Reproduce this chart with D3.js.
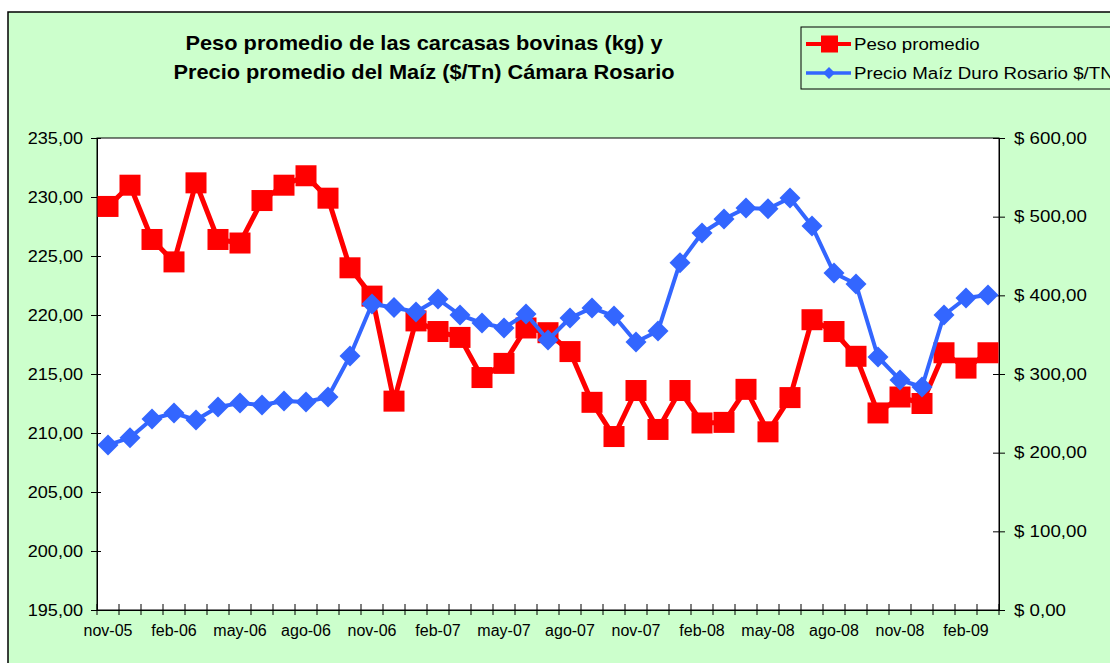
<!DOCTYPE html>
<html>
<head>
<meta charset="utf-8">
<script src="https://cdn.jsdelivr.net/npm/d3@7"></script>
<style>
  body { margin: 0; background: #fff; }
  svg text { font-family: Arial, "Liberation Sans", sans-serif; fill: #000; }
</style>
</head>
<body>
<div id="chart"></div>
<script>
const months = [
  "nov-05", "dic-05", "ene-06", "feb-06", "mar-06", "abr-06", "may-06", "jun-06",
  "jul-06", "ago-06", "sep-06", "oct-06", "nov-06", "dic-06", "ene-07", "feb-07",
  "mar-07", "abr-07", "may-07", "jun-07", "jul-07", "ago-07", "sep-07", "oct-07",
  "nov-07", "dic-07", "ene-08", "feb-08", "mar-08", "abr-08", "may-08", "jun-08",
  "jul-08", "ago-08", "sep-08", "oct-08", "nov-08", "dic-08", "ene-09", "feb-09",
  "mar-09"
];
// peso promedio de las carcasas (kg), eje izquierdo
const peso = [
  229.2, 231.0, 226.4, 224.5, 231.2, 226.4, 226.1, 229.7, 231.0, 231.8,
  229.9, 224.0, 221.6, 212.7, 219.5, 218.6, 218.1, 214.7, 215.9, 218.9,
  218.5, 216.9, 212.6, 209.7, 213.6, 210.3, 213.6, 210.85, 210.9, 213.7,
  210.1, 213.0, 219.6, 218.6, 216.5, 211.7, 213.05, 212.5, 216.8, 215.5,
  216.8
];
// precio maiz duro rosario $/Tn, eje derecho
const precio = [
  209.7, 219, 242.8, 250.4, 241.5, 258, 263, 260.6, 265.7, 264.4,
  270.7, 322.9, 389, 384.5, 378.8, 395.3, 375, 364.8, 358.5, 376.3,
  343.2, 371.2, 384, 373.7, 340.7, 354.7, 441.5, 479.2, 497, 511,
  510, 523.7, 488, 428.4, 414.4, 321.6, 292.4, 283.5, 375, 396.6,
  400.4
];
const leftTicks = [195, 200, 205, 210, 215, 220, 225, 230, 235];
const rightTicks = [0, 100, 200, 300, 400, 500, 600];
const titleLines = [
  "Peso promedio de las carcasas bovinas (kg) y",
  "Precio promedio del Maíz ($/Tn) Cámara Rosario"
];
const seriesNames = ["Peso promedio", "Precio Maíz Duro Rosario $/TN"];

const width = 1110, height = 663;
const plot = { left: 97, right: 999, top: 138, bottom: 610 };
const red = "#ff0000", blue = "#3366ff";

const es = d3.formatLocale({ decimal: ",", thousands: ".", grouping: [3], currency: ["$ ", ""] });
const fmtLeft = es.format(".2f");
const fmtRight = es.format("$.2f");

const svg = d3.select("#chart").append("svg")
  .attr("width", width)
  .attr("height", height);

// fondo verde con borde
svg.append("rect")
  .attr("x", 8).attr("y", 12)
  .attr("width", width).attr("height", height)
  .attr("fill", "#ccffcc")
  .attr("stroke", "#000")
  .attr("stroke-width", 1.5);

svg.append("rect")
  .attr("x", plot.left).attr("y", plot.top)
  .attr("width", plot.right - plot.left)
  .attr("height", plot.bottom - plot.top)
  .attr("fill", "#fff")
  .attr("stroke", "#000")
  .attr("stroke-width", 1);

// titulo
svg.selectAll(".title")
  .data(titleLines)
  .join("g")
  .attr("class", "title")
  .attr("transform", (d, i) => `translate(424,${50 + i * 29}) scale(1.09,1)`)
  .append("text")
  .attr("text-anchor", "middle")
  .style("font-size", "20px")
  .style("font-weight", "bold")
  .text((d) => d);

const x = d3.scaleBand().domain(months).range([plot.left, plot.right]);
const yL = d3.scaleLinear().domain([195, 235]).range([plot.bottom, plot.top]);
const yR = d3.scaleLinear().domain([0, 600]).range([plot.bottom, plot.top]);
const cx = (i) => x(months[i]) + x.bandwidth() / 2;

// eje izquierdo
const gL = svg.append("g")
  .attr("transform", `translate(${plot.left},0)`)
  .call(d3.axisLeft(yL).tickValues(leftTicks).tickFormat(fmtLeft).tickSize(6).tickPadding(9));
gL.select(".domain").attr("stroke", "#000");
gL.selectAll(".tick line").attr("x2", -6).attr("x1", 4);
gL.selectAll(".tick text")
  .style("font-size", "16px")
  .attr("transform", "scale(1.13,1)")
  .attr("x", -14 / 1.13);

// eje derecho
const gR = svg.append("g")
  .attr("transform", `translate(${plot.right},0)`)
  .call(d3.axisRight(yR).tickValues(rightTicks).tickFormat(fmtRight).tickSize(6));
gR.select(".domain").attr("stroke", "#000");
gR.selectAll(".tick line").attr("x1", -6).attr("x2", 6);
gR.selectAll(".tick text")
  .style("font-size", "16px")
  .attr("transform", "scale(1.17,1)")
  .attr("x", 15 / 1.17);

// eje x
const gX = svg.append("g")
  .attr("transform", `translate(0,${plot.bottom})`)
  .call(d3.axisBottom(x).tickValues(months.filter((d, i) => i % 3 === 0)).tickSize(0).tickPadding(15));
gX.select(".domain").attr("stroke", "#000");
gX.selectAll(".tick text").style("font-size", "16px");
gX.selectAll(".boundary")
  .data(months.map((d) => x(d)).concat([plot.right]))
  .join("line")
  .attr("class", "boundary")
  .attr("x1", (d) => d).attr("x2", (d) => d)
  .attr("y1", -6).attr("y2", 5)
  .attr("stroke", "#000");

// serie peso
const lineL = d3.line().x((d, i) => cx(i)).y((d) => yL(d));
svg.append("path")
  .datum(peso)
  .attr("d", lineL)
  .attr("fill", "none")
  .attr("stroke", red)
  .attr("stroke-width", 5)
  .attr("stroke-linejoin", "round");
svg.selectAll(".sq")
  .data(peso)
  .join("rect")
  .attr("class", "sq")
  .attr("x", (d, i) => cx(i) - 10.5)
  .attr("y", (d) => yL(d) - 10.5)
  .attr("width", 21).attr("height", 21)
  .attr("fill", red);

// serie precio
const lineR = d3.line().x((d, i) => cx(i)).y((d) => yR(d));
svg.append("path")
  .datum(precio)
  .attr("d", lineR)
  .attr("fill", "none")
  .attr("stroke", blue)
  .attr("stroke-width", 4)
  .attr("stroke-linejoin", "round");
const diamond = (s) => `M0,${-s}L${s},0L0,${s}L${-s},0Z`;
svg.selectAll(".dm")
  .data(precio)
  .join("path")
  .attr("class", "dm")
  .attr("transform", (d, i) => `translate(${cx(i)},${yR(d)})`)
  .attr("d", diamond(10.5))
  .attr("fill", blue);

// leyenda
const lg = svg.append("g");
lg.append("rect")
  .attr("x", 801).attr("y", 27)
  .attr("width", 330).attr("height", 62)
  .attr("fill", "#ccffcc")
  .attr("stroke", "#000")
  .attr("stroke-width", 1);
const items = lg.selectAll(".item")
  .data(seriesNames)
  .join("g")
  .attr("class", "item")
  .attr("transform", (d, i) => `translate(0,${44 + i * 29})`);
items.append("line")
  .attr("x1", 806).attr("x2", 851)
  .attr("stroke", (d, i) => (i === 0 ? red : blue))
  .attr("stroke-width", (d, i) => (i === 0 ? 4 : 3.5));
items.filter((d, i) => i === 0).append("rect")
  .attr("x", 821).attr("y", -8.5)
  .attr("width", 17).attr("height", 17)
  .attr("fill", red);
items.filter((d, i) => i === 1).append("path")
  .attr("transform", "translate(829,0)")
  .attr("d", diamond(6))
  .attr("fill", blue);
items.append("text")
  .attr("transform", "translate(854,6) scale(1.1,1)")
  .style("font-size", "17px")
  .text((d) => d);
</script>
</body>
</html>
